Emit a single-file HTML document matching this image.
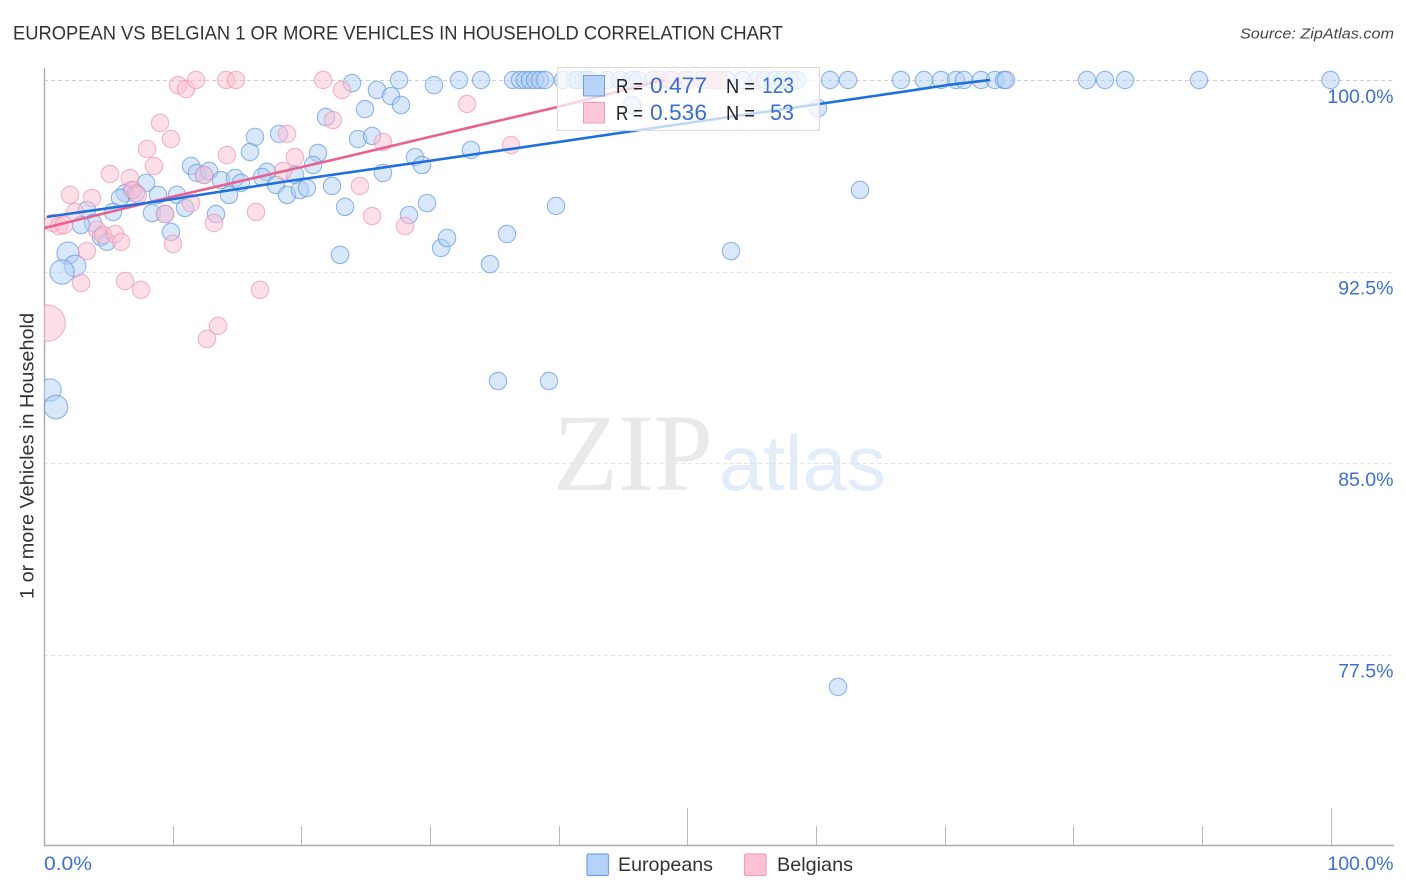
<!DOCTYPE html>
<html lang="en">
<head>
<meta charset="utf-8">
<title>European vs Belgian 1 or more Vehicles in Household Correlation Chart</title>
<style>
html,body{margin:0;padding:0;background:#fff;width:1406px;height:892px;overflow:hidden}
svg{display:block;font-family:"Liberation Sans",sans-serif}
</style>
</head>
<body>
<svg id="chart" width="1406" height="892" viewBox="0 0 1406 892" xmlns="http://www.w3.org/2000/svg">
  <defs>
    <clipPath id="plot-clip"><rect x="44" y="60" width="1362" height="785"></rect></clipPath>
  </defs>
  <text x="13" y="39.5" font-size="19" fill="#333" textLength="770" lengthAdjust="spacingAndGlyphs">EUROPEAN VS BELGIAN 1 OR MORE VEHICLES IN HOUSEHOLD CORRELATION CHART</text>
  <text x="1394" y="38.5" font-size="15" font-style="italic" fill="#444" text-anchor="end" textLength="154" lengthAdjust="spacingAndGlyphs">Source: ZipAtlas.com</text>
  <text transform="translate(33.5,456) rotate(-90)" font-size="19" fill="#333" text-anchor="middle" textLength="286" lengthAdjust="spacingAndGlyphs">1 or more Vehicles in Household</text>
  <g>
    <text x="553" y="490" font-family="'Liberation Serif',serif" font-size="110" font-weight="400" fill="#e9e9e9" textLength="160" lengthAdjust="spacingAndGlyphs">ZIP</text>
    <text x="719" y="490" font-size="78" font-weight="400" fill="#e3ecf9" textLength="167" lengthAdjust="spacingAndGlyphs">atlas</text>
  </g>
  <g id="grid"></g>
  <g id="axes"></g>
  <g id="marks" clip-path="url(#plot-clip)"></g>
  <g id="trends" clip-path="url(#plot-clip)"></g>
  <g>
    <rect x="557.5" y="67.5" width="262" height="63" fill="#fff" fill-opacity="0.72" stroke="#dcdcdc" stroke-width="1.2"></rect>
    <rect x="583.5" y="75.5" width="21" height="20.5" fill="#a9cbf5" fill-opacity="0.8" stroke="#6d9fe0"></rect>
    <rect x="583.5" y="102.5" width="21" height="20.5" fill="#fdbfd2" fill-opacity="0.85" stroke="#f09cb6"></rect>
    <text x="616" y="93" font-size="20" fill="#222" textLength="27" lengthAdjust="spacingAndGlyphs">R =</text>
    <text x="650" y="93" font-size="22" fill="#3a6fd1" textLength="57" lengthAdjust="spacingAndGlyphs">0.477</text>
    <text x="726" y="93" font-size="20" fill="#222" textLength="29" lengthAdjust="spacingAndGlyphs">N =</text>
    <text x="762" y="93" font-size="22" fill="#3a6fd1" textLength="32" lengthAdjust="spacingAndGlyphs">123</text>
    <text x="616" y="120" font-size="20" fill="#222" textLength="27" lengthAdjust="spacingAndGlyphs">R =</text>
    <text x="650" y="120" font-size="22" fill="#3a6fd1" textLength="57" lengthAdjust="spacingAndGlyphs">0.536</text>
    <text x="726" y="120" font-size="20" fill="#222" textLength="29" lengthAdjust="spacingAndGlyphs">N =</text>
    <text x="770" y="120" font-size="22" fill="#3a6fd1" textLength="24" lengthAdjust="spacingAndGlyphs">53</text>
  </g>
  <g>
    <rect x="587" y="854" width="21.5" height="21.5" rx="1.5" fill="#b5d3f8" stroke="#72a4e2" stroke-width="1.2"></rect>
    <text x="618" y="871" font-size="19.5" fill="#333" textLength="95" lengthAdjust="spacingAndGlyphs">Europeans</text>
    <rect x="744.5" y="854" width="21.5" height="21.5" rx="1.5" fill="#fec2d4" stroke="#f0a0b9" stroke-width="1.2"></rect>
    <text x="777" y="871" font-size="19.5" fill="#333" textLength="76" lengthAdjust="spacingAndGlyphs">Belgians</text>
  </g>
</svg>
<script>
var yTickValues = [100, 92.5, 85, 77.5];
var yTickLabels = ["100.0%", "92.5%", "85.0%", "77.5%"];
var xTickValues = [0, 10, 20, 30, 40, 50, 60, 70, 80, 90, 100];
var xMajorTicks = [50, 100];
var xEndLabels = ["0.0%", "100.0%"];

var europeanWeights = [1.64, 1.55, 1.95, 1.64, 1.85];
var europeanX = [1.87, 2.41, 1.40, 0.47, 0.93,
  27.6, 32.26, 33.97, 36.46, 37.0, 37.39, 37.78, 38.17, 38.55, 38.94, 40.34, 41.28, 41.51, 41.9, 42.2, 42.44, 43.76, 44.77, 45.71, 46.17, 47.34, 48.66, 49.83, 51.15, 52.16, 53.09, 54.33, 55.42, 56.04, 56.82, 57.37, 57.99, 58.53, 61.1, 62.5, 66.61, 68.4, 69.72, 70.89, 71.51, 72.83, 73.92, 74.62, 74.78, 81.07, 82.47, 84.03, 89.78, 100,
  23.94, 30.31, 25.88, 26.97, 27.75, 24.95, 21.92, 24.41, 25.5, 21.3, 20.91, 19.51, 17.33, 16.95, 18.03, 18.89, 19.9, 20.44, 22.39, 23.4, 26.35, 28.84, 29.38, 29.77, 28.37, 33.19, 23.01, 30.86, 31.33, 35.99, 34.67, 39.8, 45.71, 53.4, 63.43, 60.16, 35.29, 39.25, 61.72,
  16.4, 18.27, 16.01, 11.43, 11.89, 12.44, 12.83, 13.76, 14.85, 15.31, 14.38, 10.34, 8.86, 7.93, 6.84, 6.3, 5.91, 7.15, 5.36, 8.39, 9.41, 10.96, 13.37, 9.87, 3.34, 3.81, 2.88, 4.43, 4.9];
var europeanY = [93.22, 92.72, 92.48, 87.86, 87.19,
  100, 100, 100, 100, 100, 100, 100, 100, 100, 100, 100, 100, 100, 100, 100, 100, 100, 100, 100, 100, 100, 100, 100, 100, 100, 100, 100, 100, 100, 100, 100, 100, 100, 100, 100, 100, 100, 100, 100, 100, 100, 100, 100, 100, 100, 100, 100, 100, 100,
  99.88, 99.80, 99.61, 99.37, 99.02, 98.86, 98.55, 97.69, 97.81, 97.14, 96.67, 96.28, 96.40, 96.2, 95.89, 95.5, 95.69, 95.77, 95.85, 95.03, 96.36, 96.98, 96.67, 95.18, 94.71, 97.26, 93.15, 93.42, 93.81, 93.97, 92.79, 95.07, 99.02, 93.3, 95.69, 98.9, 88.21, 88.21, 76.23,
  97.77, 97.89, 97.18, 96.63, 96.36, 96.28, 96.44, 96.08, 96.16, 95.97, 95.5, 95.5, 95.5, 95.97, 95.69, 95.57, 95.38, 95.57, 94.83, 94.79, 94.75, 94.99, 94.75, 94.05, 94.91, 94.4, 94.32, 93.85, 93.66];

var belgianWeights = [4.4];
var belgianX = [0.23, 10.42, 11.04, 11.82, 14.15, 14.92, 21.69, 23.16, 22.46, 18.89, 26.35, 19.51, 18.58, 14.22, 9.02, 9.87, 8.01, 8.55, 5.13, 6.68, 2.02, 3.73, 2.41, 6.92, 7.31, 11.43, 9.41, 16.48, 24.56, 25.5, 28.06, 13.21, 12.44, 0.7, 1.17, 1.55, 4.12, 4.59, 5.52, 5.99, 10.03, 3.34, 2.88, 6.3, 7.54, 16.79, 13.53, 12.67, 32.88, 36.3, 42.83, 47.88, 48.82, 50.21, 51.61, 52.08, 52.55];
var belgianY = [90.48, 99.8, 99.65, 100, 100, 100, 100, 99.61, 98.43, 97.89, 97.57, 96.98, 96.44, 97.06, 98.32, 97.69, 97.3, 96.63, 96.32, 96.16, 95.5, 95.38, 94.83, 95.69, 95.5, 95.18, 94.75, 94.83, 95.85, 94.67, 94.28, 94.4, 96.28, 94.4, 94.28, 94.32, 94.13, 93.93, 93.97, 93.66, 93.58, 93.3, 92.05, 92.13, 91.78, 91.78, 90.37, 89.86, 99.06, 97.45, 98.83, 100, 100, 100, 100, 100, 100];

var europeanTrendX = [0.23, 9.56, 18.58, 31.56, 46.33, 64.98, 70.19, 73.53];
var europeanTrendY = [94.64, 95.3, 96.01, 96.95, 98.04, 99.41, 99.8, 100];
var belgianTrendX = [0, 9.56, 17.33, 22.46, 31.56, 39.88, 44.54, 47.1, 48.27];
var belgianTrendY = [94.2, 95.38, 96.28, 96.87, 97.96, 98.94, 99.53, 99.88, 100];

var NS = "http://www.w3.org/2000/svg";
function xScale(v) { return 44 + v * 12.865; }
function yScale(v) { return 80 + (100 - v) * 191.5 / 7.5; }
function make(tag, attrs, parent) {
  var el = document.createElementNS(NS, tag);
  for (var k in attrs) el.setAttribute(k, attrs[k]);
  parent.appendChild(el);
  return el;
}

var grid = document.getElementById("grid");
var axes = document.getElementById("axes");
var marks = document.getElementById("marks");
var trends = document.getElementById("trends");

yTickValues.forEach(function (v, i) {
  var y = Math.round(yScale(v)) + 0.5;
  var line = make("line", { x1: 44, x2: 1394, y1: y, y2: y, stroke: i === 0 ? "#cfcfcf" : "#e4e4e4", "stroke-width": 1, "stroke-dasharray": "4 3" }, grid);
  
  
  var label = make("text", { x: 1393.5, y: yScale(v) + 23, "font-size": 19.5, fill: "#3d70d0", "text-anchor": "end" }, axes);
  label.textContent = yTickLabels[i];
  
  
});

var leftAxis = make("line", { x1: 44.5, x2: 44.5, y1: 68, y2: 846, stroke: "#aaa", "stroke-width": 1.4 }, axes);


var bottomAxis = make("line", { x1: 44, x2: 1394, y1: 845.5, y2: 845.5, stroke: "#aaa", "stroke-width": 1.4 }, axes);



xTickValues.forEach(function (v) {
  if (v === 0) return;
  var x = Math.round(xScale(v)) + 0.5;
  var major = xMajorTicks.indexOf(v) >= 0;
  var tick = make("line", { x1: x, x2: x, y1: major ? 808 : 826, y2: 845, stroke: "#bbb", "stroke-width": 1 }, axes);
  
  
});

var xLabelLeft = make("text", { x: xScale(0), y: 870, "font-size": 19.5, fill: "#3d70d0", textLength: 48, lengthAdjust: "spacingAndGlyphs" }, axes);
xLabelLeft.textContent = xEndLabels[0];


var xLabelRight = make("text", { x: 1393.5, y: 870, "font-size": 19.5, fill: "#3d70d0", "text-anchor": "end" }, axes);
xLabelRight.textContent = xEndLabels[1];



function drawPoints(xs, ys, weights, fill, stroke, name) {
  xs.forEach(function (v, i) {
    var w = weights[i] || 1;
    var c = make("circle", { cx: xScale(v), cy: yScale(ys[i]), r: 8.7 * Math.sqrt(w), fill: fill, "fill-opacity": 0.5, stroke: stroke, "stroke-opacity": 0.68, "stroke-width": 1.1 }, marks);
    
    
  });
}
drawPoints(europeanX, europeanY, europeanWeights, "#b2d0f6", "#5f97de", "european-point");
drawPoints(belgianX, belgianY, belgianWeights, "#fcc0d2", "#ee93af", "belgian-point");

function drawTrend(xs, ys, color, name) {
  var pts = xs.map(function (v, i) { return xScale(v).toFixed(1) + "," + yScale(ys[i]).toFixed(1); }).join(" ");
  var p = make("polyline", { points: pts, fill: "none", stroke: color, "stroke-width": 2.6, "stroke-linejoin": "round" }, trends);
  
  
}
drawTrend(belgianTrendX, belgianTrendY, "#e8628f", "belgian-trend-line");
drawTrend(europeanTrendX, europeanTrendY, "#1f6fdc", "european-trend-line");
</script>
</body>
</html>
